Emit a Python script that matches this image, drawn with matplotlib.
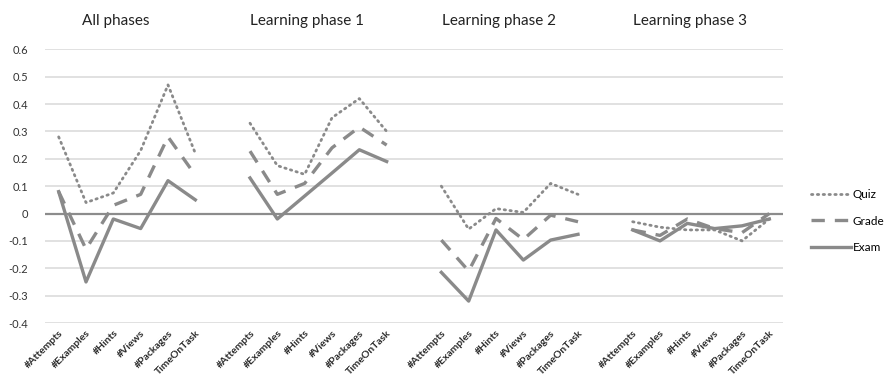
import numpy as np
import matplotlib
matplotlib.use("Agg")
import matplotlib.pyplot as plt

plt.rcParams['font.family'] = ['Lato', 'DejaVu Sans']

# categories and group titles
metrics = ["#Attempts", "#Examples", "#Hints", "#Views", "#Packages", "TimeOnTask"]
groups = ["All phases", "Learning phase 1", "Learning phase 2", "Learning phase 3"]

# correlation values, one list per group
quiz = [
    [0.28, 0.04, 0.075, 0.23, 0.47, 0.22],
    [0.33, 0.175, 0.143, 0.35, 0.42, 0.30],
    [0.10, -0.057, 0.018, 0.004, 0.11, 0.07],
    [-0.03, -0.05, -0.06, -0.06, -0.10, -0.02],
]
grade = [
    [0.08, -0.13, 0.03, 0.07, 0.28, 0.14],
    [0.228, 0.07, 0.11, 0.24, 0.316, 0.25],
    [-0.097, -0.21, -0.018, -0.095, -0.006, -0.03],
    [-0.06, -0.08, -0.02, -0.055, -0.07, 0.0],
]
exam = [
    [0.08, -0.25, -0.02, -0.055, 0.12, 0.05],
    [0.13, -0.02, 0.064, 0.148, 0.233, 0.19],
    [-0.215, -0.32, -0.06, -0.17, -0.097, -0.076],
    [-0.06, -0.10, -0.036, -0.055, -0.045, -0.02],
]

##########################################################################
line_col = "#8a8a8a"
fig = plt.figure(figsize=(8.9, 3.88), dpi=100)
ax = fig.add_axes([45/890, 65/388, (783-45)/890, (338.7-65)/388])

n = len(metrics)
xticks = []
xlabels = []
for g in range(len(groups)):
    xs = np.arange(n) + g*(n+1)
    lq, = ax.plot(xs, quiz[g], color=line_col, lw=2.0, linestyle=(0, (0.5, 1.6)),
                  dash_capstyle='round', solid_capstyle='round')
    lg, = ax.plot(xs, grade[g], color=line_col, lw=2.4, linestyle=(0, (4, 3)))
    le, = ax.plot(xs, exam[g], color=line_col, lw=2.4)
    xticks += list(xs)
    xlabels += metrics
    ax.text(xs.mean() - 0.4, 0.705, groups[g], ha='center', va='center', fontsize=11,
            color="#222222", transform=ax.transData, clip_on=False)

ax.set_xlim(-0.5, 4*n + 3 - 0.5)
ax.set_ylim(-0.4, 0.6)
ax.set_yticks(np.arange(-0.4, 0.61, 0.1))
ax.set_yticklabels(["-0.4", "-0.3", "-0.2", "-0.1", "0", "0.1", "0.2", "0.3", "0.4", "0.5", "0.6"],
                   fontsize=8, color="#333333")
ax.set_xticks(xticks)
ax.set_xticklabels(xlabels, rotation=45, ha='right', rotation_mode='anchor',
                   fontsize=7.5, fontweight='bold', color="#2a2a2a")
ax.tick_params(axis='both', length=0, pad=4)
ax.tick_params(axis='y', pad=12)

for v in np.arange(-0.4, 0.61, 0.1):
    if abs(v) > 1e-9:
        ax.axhline(v, color="#dcdcdc", lw=1.2, zorder=0)
ax.axhline(0, color="#8c8c8c", lw=1.6, zorder=1)
for s in ax.spines.values():
    s.set_visible(False)

leg = fig.legend([lq, lg, le], ["Quiz", "Grade", "Exam"], loc='center left',
                 bbox_to_anchor=(800/890, 1 - 221/388), frameon=False, fontsize=8.5,
                 handlelength=3.4, handletextpad=0.15, labelspacing=1.3)

plt.savefig("out.png", dpi=100)
